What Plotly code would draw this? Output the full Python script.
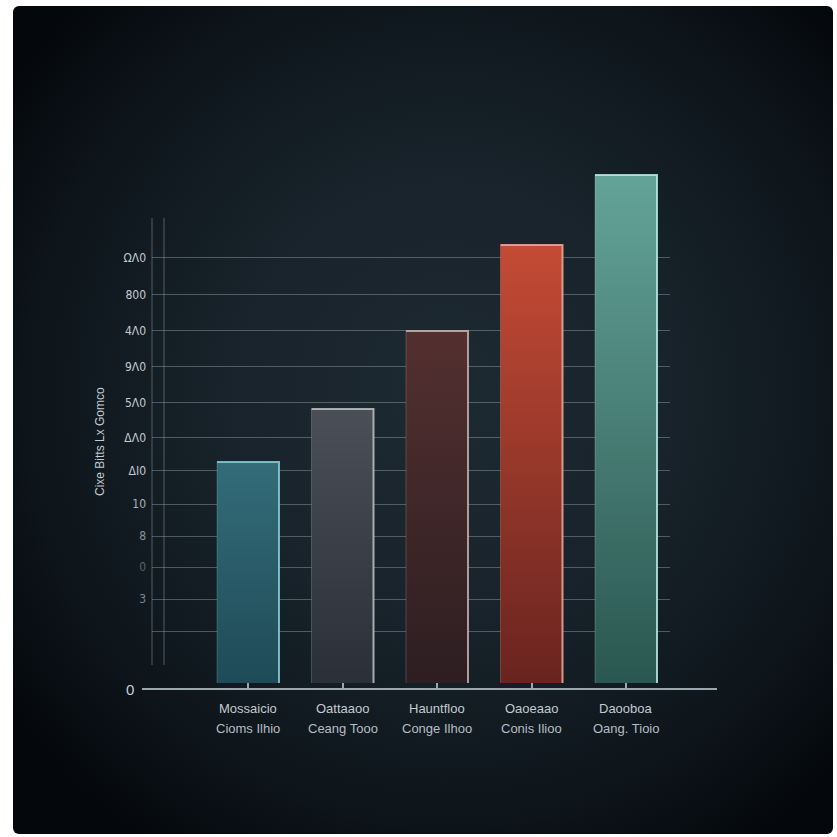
import base64
import plotly.graph_objects as go

# ---- data ----
categories = ["Mossaicio", "Oattaaoo", "Hauntfloo", "Oaoeaao", "Daooboa"]
subcategories = ["Cioms Ilhio", "Ceang Tooo", "Conge Ilhoo", "Conis Ilioo", "Oang. Tioio"]
values = [61.4, 76.1, 97.8, 121.7, 141.1]
ytick_vals = [14.4, 23.3, 32.2, 40.8, 49.7, 58.9, 68.1, 77.8, 87.8, 97.8, 107.8, 118.1]
ytick_text = ["", "3", "0", "8", "10", "ΔΙ0", "ΔΛ0", "5Λ0", "9Λ0", "4Λ0", "800", "ΩΛ0"]
ytitle = "Cixe Bitts Lx Gomco"

# ---- styles ----
top_cols = ["#346c79", "#4a4f58", "#53302f", "#c44b35", "#64a398"]
bot_cols = ["#1e4b57", "#2b2f37", "#2d1e22", "#69241f", "#2a5751"]
edge_cols = ["#8ccfd6", "#bfc3c8", "#c9b0ae", "#f0ad9c", "#b8ece4"]
tick_cols = ["#c3cbd0"] * 12
tick_cols[1] = "#7c868d"
tick_cols[2] = "#5a646b"
tick_cols[3] = "#8a949a"
tick_cols[4] = "#a9b2b7"
FONT = "Liberation Sans Narrow, DejaVu Sans Condensed, Liberation Sans, sans-serif"
LFONT = "Liberation Sans, Arial, sans-serif"

W = 0.656
fig = go.Figure()
for i, v in enumerate(values):
    l, r = i - W / 2, i + W / 2
    fig.add_trace(go.Scatter(
        x=[l, l, r, r, l], y=[0, v, v, 0, 0], mode="lines", fill="toself",
        line=dict(width=0, color=bot_cols[i]),
        fillgradient=dict(type="vertical",
                          colorscale=[[0, bot_cols[i]], [1, top_cols[i]]]),
        hoverinfo="skip", showlegend=False))
    fig.add_trace(go.Scatter(
        x=[l, r, r], y=[v, v, 0], mode="lines",
        line=dict(width=2, color=edge_cols[i]), opacity=0.85,
        hoverinfo="skip", showlegend=False))
    fig.add_trace(go.Scatter(
        x=[l, l], y=[0, v], mode="lines",
        line=dict(width=1, color=edge_cols[i]), opacity=0.25,
        hoverinfo="skip", showlegend=False))

PL, PR, PT, PB = 152, 670, 170, 689
pw, ph = PR - PL, PB - PT

def px(x):
    return (x - PL) / pw

def py(y):
    return (PB - y) / ph

# category labels
for i, (c, s) in enumerate(zip(categories, subcategories)):
    fig.add_annotation(x=i, y=py(708), xref="x", yref="paper", text=c,
                       showarrow=False, xanchor="center", yanchor="middle",
                       font=dict(family=LFONT, size=13, color="#c3cbd0"))
    fig.add_annotation(x=i, y=py(728), xref="x", yref="paper", text=s,
                       showarrow=False, xanchor="center", yanchor="middle",
                       font=dict(family=LFONT, size=13, color="#b5bec3"))

ticktext = [f"<span style='color:{c}'>{t}</span>" if t else "" for t, c in zip(ytick_text, tick_cols)]

# background panel as radial gradient svg
svg = ('<svg xmlns="http://www.w3.org/2000/svg" width="820" height="828">'
       '<defs><radialGradient id="g" cx="0.53" cy="0.47" r="0.66">'
       '<stop offset="0" stop-color="#1e2a32"/>'
       '<stop offset="0.4" stop-color="#18232b"/>'
       '<stop offset="0.75" stop-color="#0e161c"/>'
       '<stop offset="1" stop-color="#04070b"/>'
       '</radialGradient></defs>'
       '<rect width="820" height="828" rx="6" fill="url(#g)"/></svg>')
src = "data:image/svg+xml;base64," + base64.b64encode(svg.encode()).decode()

fig.add_layout_image(dict(source=src, xref="paper", yref="paper",
                          x=px(13), y=py(6), sizex=820 / pw, sizey=828 / ph,
                          xanchor="left", yanchor="top", sizing="stretch",
                          layer="below"))

# y title and zero label
fig.add_annotation(x=px(100), y=py(442), xref="paper", yref="paper", text=ytitle,
                   textangle=-90, showarrow=False, xanchor="center", yanchor="middle",
                   font=dict(family=LFONT, size=12, color="#c3cbd0"))
fig.add_annotation(x=px(130), y=py(689), xref="paper", yref="paper", text="0",
                   showarrow=False, xanchor="center", yanchor="middle",
                   font=dict(family=LFONT, size=15, color="#c8d0d4"))

# baseline and vertical rules
fig.add_shape(type="line", xref="paper", yref="paper", x0=px(142), x1=px(717),
              y0=0, y1=0, line=dict(color="#9aa7af", width=2))
for xv in (152, 164):
    fig.add_shape(type="line", xref="paper", yref="paper", x0=px(xv), x1=px(xv),
                  y0=py(218), y1=py(665), line=dict(color="#6d7880", width=1),
                  opacity=0.7, layer="below")

fig.update_layout(
    width=837, height=837,
    margin=dict(l=PL, r=837 - PR, t=PT, b=837 - PB, pad=0),
    paper_bgcolor="#ffffff", plot_bgcolor="rgba(0,0,0,0)",
    showlegend=False,
    xaxis=dict(range=[(PL - 248) / 94.5, (PR - 248) / 94.5], tickvals=list(range(5)),
               showticklabels=False, ticks="inside", ticklen=6, tickcolor="#9aa7af",
               tickwidth=1.5, showgrid=False, zeroline=False, showline=False,
               fixedrange=True),
    yaxis=dict(range=[-(PB - 683) / 3.6, (683 - PT) / 3.6], tickvals=ytick_vals,
               ticktext=ticktext, showgrid=True, gridcolor="rgba(150,162,170,0.45)",
               gridwidth=1, zeroline=False, showline=False, ticks="",
               tickfont=dict(family=FONT, size=12, color="#c3cbd0"),
               ticklabelstandoff=5, fixedrange=True),
)

fig.write_html("out.html")
